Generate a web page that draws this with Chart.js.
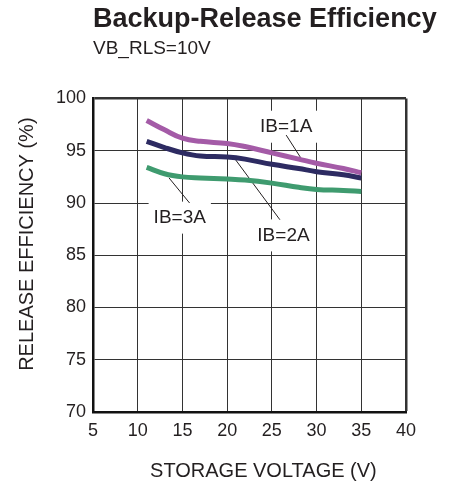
<!DOCTYPE html>
<html>
<head>
<meta charset="utf-8">
<script src="https://cdn.jsdelivr.net/npm/chart.js@4"></script>
<style>
  html, body { margin: 0; padding: 0; background: #fff; }
</style>
</head>
<body>
<canvas id="myChart" width="458" height="485"></canvas>
<script>
// storage voltage (V) sample points
const voltage = [11, 13, 15, 17, 20, 22, 25, 28, 30, 33, 35];
const effIB1A = [97.9, 97.0, 96.2, 95.9, 95.7, 95.4, 94.8, 94.2, 93.8, 93.3, 92.9];
const effIB2A = [95.9, 95.3, 94.8, 94.5, 94.4, 94.2, 93.7, 93.3, 93.0, 92.7, 92.4];
const effIB3A = [93.4, 92.8, 92.5, 92.4, 92.3, 92.2, 91.9, 91.5, 91.3, 91.2, 91.1];
const seriesNames = ["IB=1A", "IB=2A", "IB=3A"];
const xTicks = [5, 10, 15, 20, 25, 30, 35, 40];
const yTicks = [70, 75, 80, 85, 90, 95, 100];

// callout labels with leader lines, in data coordinates
const callouts = [
  { text: "IB=1A", at: [26.6, 97.3], from: [26.6, 96.5], to: [28.4, 94.1] },
  { text: "IB=2A", at: [26.3, 86.9], from: [20.8, 94.3], to: [25.9, 88.4] },
  { text: "IB=3A", at: [14.7, 88.6], from: [13.5, 92.4], to: [15.8, 90.0] }
];

const FONT = "'Liberation Sans', Arial, sans-serif";
const INK = "#231f20";
Chart.defaults.font.family = FONT;
Chart.defaults.color = INK;

const toPoints = (ys) => ys.map((v, i) => ({ x: voltage[i], y: v }));

const calloutPlugin = {
  id: "callouts",
  afterLayout(chart) {
    // title starts at the plot's left edge but may run past its right edge
    const t = chart.titleBlock;
    if (t) { t.right = chart.width; t.width = t.right - t.left; }
  },
  beforeDatasetsDraw(chart) {
    const { ctx, scales: { x, y } } = chart;
    ctx.save();
    ctx.font = "19px " + FONT;
    callouts.forEach((c) => {
      const tx = x.getPixelForValue(c.at[0]);
      const ty = y.getPixelForValue(c.at[1]);
      const w = ctx.measureText(c.text).width + 10;
      ctx.fillStyle = "#fff";
      ctx.fillRect(tx - w / 2, ty - 16, w, 32);
      ctx.strokeStyle = INK;
      ctx.lineWidth = 1;
      ctx.beginPath();
      ctx.moveTo(x.getPixelForValue(c.from[0]), y.getPixelForValue(c.from[1]));
      ctx.lineTo(x.getPixelForValue(c.to[0]), y.getPixelForValue(c.to[1]));
      ctx.stroke();
      ctx.fillStyle = INK;
      ctx.textAlign = "center";
      ctx.textBaseline = "middle";
      ctx.fillText(c.text, tx, ty);
    });
    ctx.restore();
  }
};

new Chart("myChart", {
  type: "line",
  data: {
    datasets: [
      { label: seriesNames[0], data: toPoints(effIB1A), borderColor: "#a45ba7" },
      { label: seriesNames[1], data: toPoints(effIB2A), borderColor: "#2d2b62" },
      { label: seriesNames[2], data: toPoints(effIB3A), borderColor: "#3f9b6f" }
    ]
  },
  options: {
    responsive: false,
    animation: false,
    layout: { padding: { top: 0, right: 52, bottom: 0, left: 0 } },
    elements: {
      line: { borderWidth: 5, tension: 0.4, fill: false },
      point: { radius: 0 }
    },
    plugins: {
      legend: { display: false },
      tooltip: { enabled: false },
      title: {
        display: true,
        text: "Backup-Release Efficiency",
        align: "start",
        fullSize: false,
        color: INK,
        font: { size: 27, weight: "bold" },
        padding: { top: 3, bottom: 0 }
      },
      subtitle: {
        display: true,
        text: "VB_RLS=10V",
        align: "start",
        fullSize: false,
        color: INK,
        font: { size: 19 },
        padding: { top: 1.6, bottom: 38.7 }
      }
    },
    scales: {
      x: {
        type: "linear",
        min: xTicks[0],
        max: xTicks[xTicks.length - 1],
        afterBuildTicks: (s) => { s.ticks = xTicks.map((v) => ({ value: v })); },
        afterFit: (s) => { s.height = 73; },
        ticks: { font: { size: 18 }, padding: 8, color: INK },
        grid: {
          color: "#333",
          lineWidth: (c) => (c.tick && c.tick.value === 40 ? 2.5 : 1),
          drawTicks: false
        },
        border: { color: "#111", width: 2.5 },
        title: {
          display: true,
          text: "     STORAGE VOLTAGE (V)",
          font: { size: 20 },
          color: INK,
          padding: { bottom: 2 }
        }
      },
      y: {
        min: yTicks[0],
        max: yTicks[yTicks.length - 1],
        afterBuildTicks: (s) => { s.ticks = yTicks.map((v) => ({ value: v })); },
        afterFit: (s) => { s.width = 93; },
        ticks: { font: { size: 18 }, padding: 7, color: INK },
        grid: {
          color: "#333",
          lineWidth: (c) => (c.tick && c.tick.value === 100 ? 2.5 : 1),
          drawTicks: false
        },
        border: { color: "#111", width: 2.5 },
        title: {
          display: true,
          text: "    RELEASE EFFICIENCY (%)",
          font: { size: 20 },
          color: INK,
          padding: { top: 15 }
        }
      }
    }
  },
  plugins: [calloutPlugin]
});
</script>
</body>
</html>
